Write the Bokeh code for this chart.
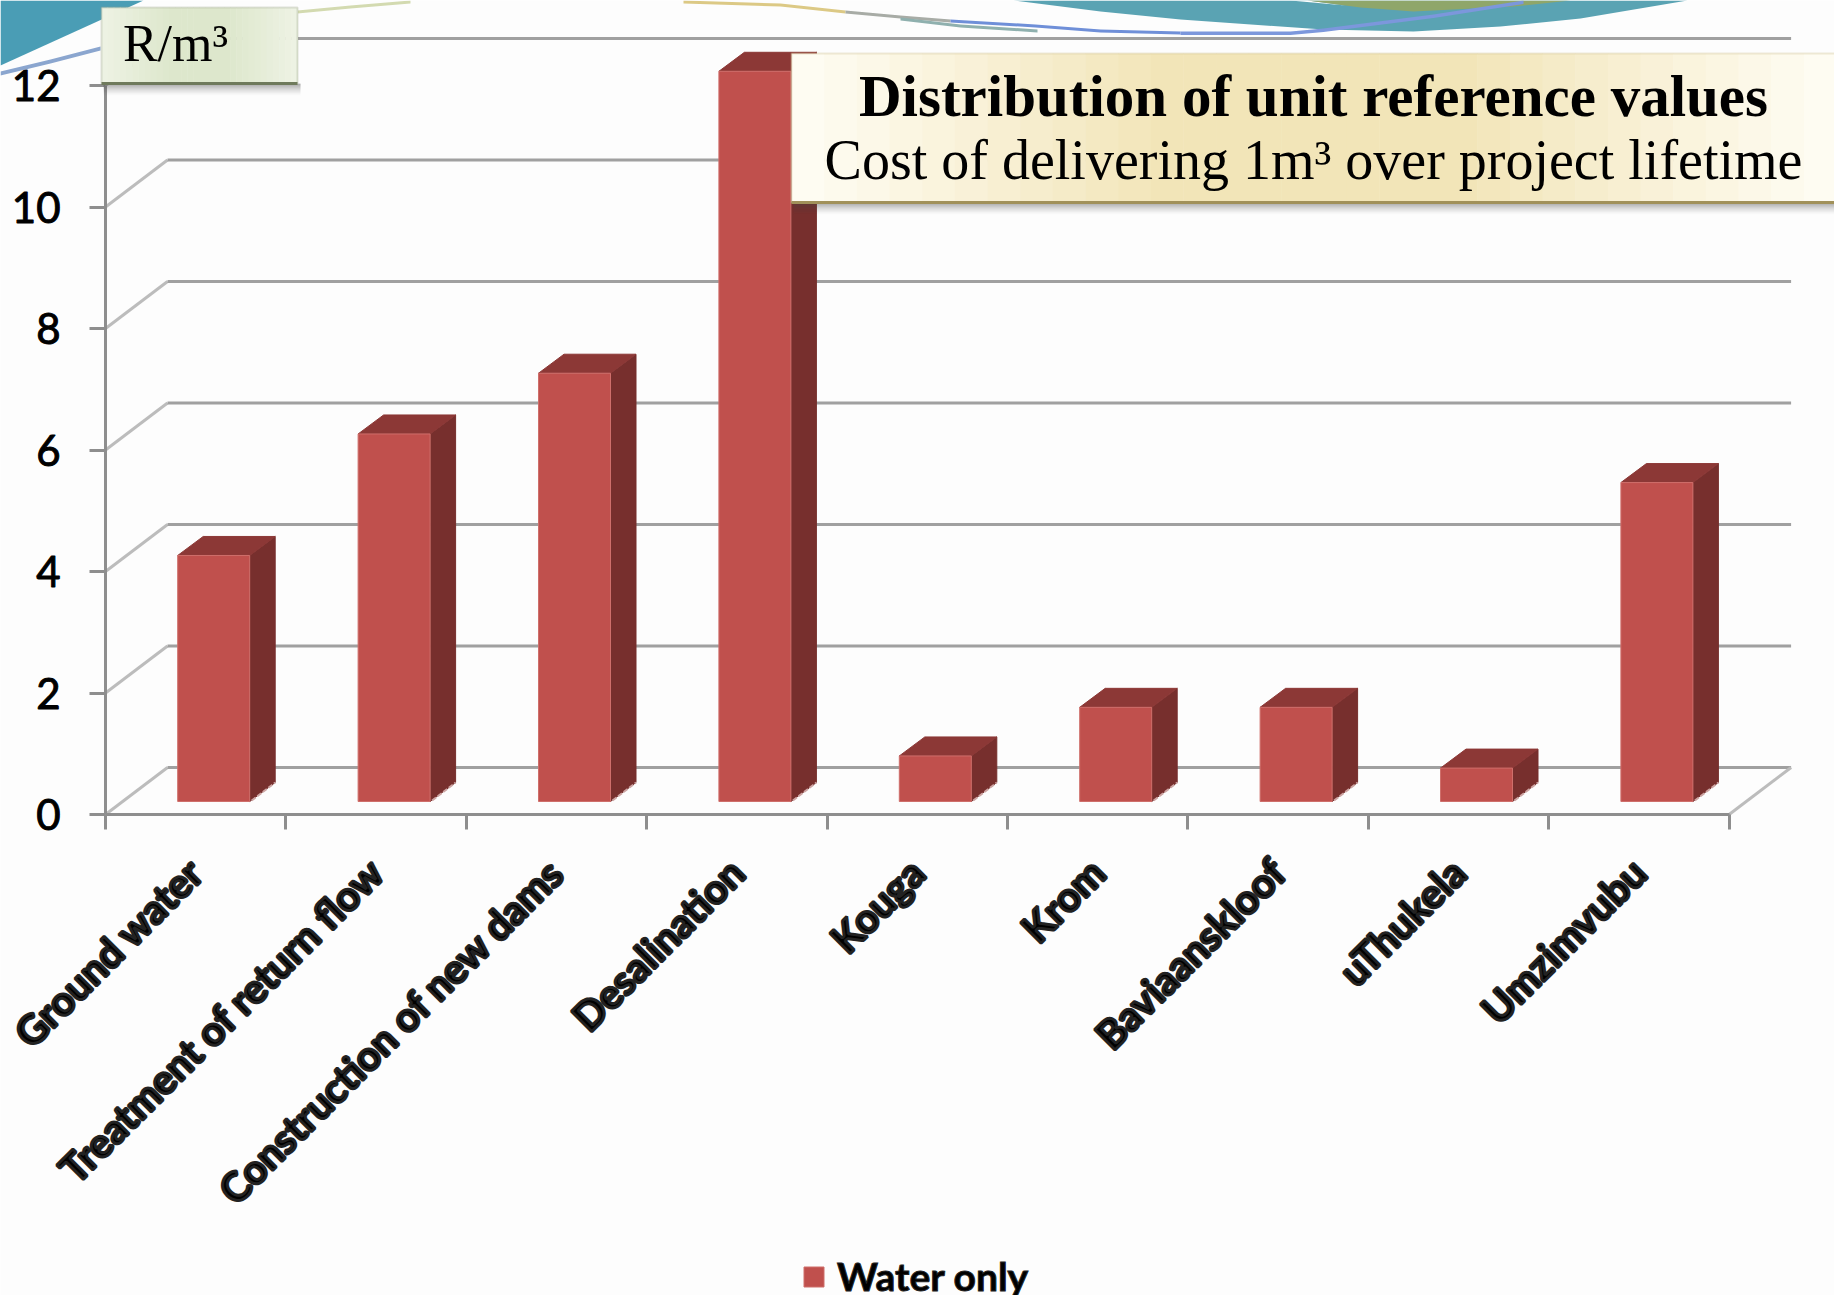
from math import pi
from bokeh.plotting import figure
from bokeh.embed import file_html
from bokeh.resources import INLINE
from bokeh.models import (LinearAxis, FixedTicker, Range1d, Legend, Label,
                          BoxAnnotation, PolyAnnotation)

categories = ["Ground water", "Treatment of return flow", "Construction of new dams",
              "Desalination", "Kouga", "Krom", "Baviaanskloof", "uThukela", "Umzimvubu"]
values = [4.05, 6.05, 7.05, 12.02, 0.75, 1.55, 1.55, 0.55, 5.25]
y_ticks = [0, 2, 4, 6, 8, 10, 12]
series_name = "Water only"
title_main = "Distribution of unit reference values"
title_sub = "Cost of delivering 1m³ over project lifetime"
unit_label = "R/m³"

W, H = 1834, 1295
X0, Y0 = 105, 814          # canvas position of the axes' origin
PX_X, PX_Y = 180.4, 60.75  # pixels per data unit

# pseudo-3D geometry in data units
WALL_DX, WALL_DY = 62 / PX_X, 47 / PX_Y
BAR_W = 72 / PX_X
BAR_SHIFT = 18 / PX_X
BAR_FLOOR = 13 / PX_Y
SIDE_DX, SIDE_DY = 25.5 / PX_X, 19 / PX_Y

p = figure(width=W, height=H, output_backend="svg", toolbar_location=None,
           x_axis_type=None, y_axis_type=None,
           x_range=Range1d(-X0 / PX_X, (W - X0) / PX_X),
           y_range=Range1d(-(H - Y0) / PX_Y, Y0 / PX_Y),
           min_border=0,
           background_fill_color="#fdfdfd", border_fill_color="#fdfdfd",
           outline_line_color=None)
p.grid.visible = False

AXC = "#8e8e8e"
n = len(categories)
# walls and floor lines
for v in y_ticks:
    p.line([0, WALL_DX], [v, v + WALL_DY], line_color="#bcbcbc", line_width=3)
    p.line([WALL_DX, n + WALL_DX], [v + WALL_DY, v + WALL_DY],
           line_color="#a0a0a0", line_width=3)
p.line([n, n + WALL_DX], [0, WALL_DY], line_color="#bcbcbc", line_width=3)

# bars
xl = [i + 0.5 + BAR_SHIFT - BAR_W / 2 for i in range(n)]
xr = [x + BAR_W for x in xl]
tops = [v + BAR_FLOOR for v in values]
side_xs = [[r, r + SIDE_DX, r + SIDE_DX, r] for r in xr]
side_ys = [[BAR_FLOOR, BAR_FLOOR + SIDE_DY, t + SIDE_DY, t] for t in tops]
top_xs = [[l, l + SIDE_DX, r + SIDE_DX, r] for l, r in zip(xl, xr)]
top_ys = [[t, t + SIDE_DY, t + SIDE_DY, t] for t in tops]
p.patches(side_xs, side_ys, fill_color="#772f2d", line_color="#772f2d")
p.patches(top_xs, top_ys, fill_color="#8c3836", line_color="#8c3836")
p.segment([r + 2 / PX_X for r in xr], [BAR_FLOOR + 1 / PX_Y] * n,
          [r + SIDE_DX for r in xr], [BAR_FLOOR + SIDE_DY] * n,
          line_color="#cda5a3", line_width=2, line_dash="5 2")
front = p.quad(left=xl, right=xr, bottom=[BAR_FLOOR] * n, top=tops,
               fill_color="#c0504d", line_color="#cf6f6b", line_width=1)

# y axis
ya = LinearAxis(ticker=FixedTicker(ticks=y_ticks), bounds=(0, 12), fixed_location=0)
ya.axis_line_color = AXC
ya.axis_line_width = 3
ya.major_tick_line_color = AXC
ya.major_tick_line_width = 3
ya.major_tick_in = 0
ya.major_tick_out = 16
ya.minor_tick_out = 0
ya.minor_tick_in = 0
ya.major_label_standoff = 29
ya.major_label_text_font = "Lato"
ya.major_label_text_font_size = "42px"
ya.major_label_text_color = "#000000"
ya.major_label_text_outline_color = "#000000"
p.add_layout(ya, "left")

# x axis: boundary minor ticks, category labels at bar centres
xa = LinearAxis(ticker=FixedTicker(ticks=[i + 0.5 for i in range(n)],
                                   minor_ticks=list(range(n + 1))),
                major_label_overrides={i + 0.5: c for i, c in enumerate(categories)},
                bounds=(0, n), fixed_location=0)
xa.axis_line_color = AXC
xa.axis_line_width = 3
xa.major_tick_line_color = None
xa.major_tick_in = 0
xa.major_tick_out = 0
xa.minor_tick_line_color = AXC
xa.minor_tick_line_width = 3
xa.minor_tick_in = 0
xa.minor_tick_out = 15
xa.major_label_orientation = pi / 4
xa.major_label_standoff = 36
xa.major_label_text_font = "Lato"
xa.major_label_text_font_style = "bold"
xa.major_label_text_font_size = "40px"
xa.major_label_text_color = "#000000"
xa.major_label_text_outline_color = "#222222"
p.add_layout(xa, "below")

# legend
leg = Legend(items=[(series_name, [front])], location=(801, -4),
             background_fill_alpha=0, border_line_color=None,
             label_text_font="Lato", label_text_font_style="bold",
             label_text_font_size="39px", label_text_color="#000000",
             label_text_outline_color="#222222",
             glyph_width=25, glyph_height=25, label_standoff=11,
             padding=0, margin=0)
p.add_layout(leg, "center")


def poly(pts, color):
    p.add_layout(PolyAnnotation(xs=[a for a, _ in pts], ys=[b for _, b in pts],
                                xs_units="canvas", ys_units="canvas",
                                fill_color=color, fill_alpha=1, line_color=None))


def band(pts, w, color):
    poly(pts + [(a, b + w) for a, b in reversed(pts)], color)


def box(l, r, t, b, color, alpha=1.0, line=None, lw=1):
    p.add_layout(BoxAnnotation(left=l, right=r, top=t, bottom=b,
                               left_units="canvas", right_units="canvas",
                               top_units="canvas", bottom_units="canvas",
                               fill_color=color, fill_alpha=alpha,
                               line_color=line, line_width=lw, editable=False))


def mix(a, b, t):
    ca = [int(a[i:i + 2], 16) for i in (1, 3, 5)]
    cb = [int(b[i:i + 2], 16) for i in (1, 3, 5)]
    return "#%02x%02x%02x" % tuple(round(x + (y - x) * t) for x, y in zip(ca, cb))


def gradient_box(l, r, t, b, edge, mid, border, dark, strips=32):
    for i in range(12):
        box(l + 2, r + 3, b + i, b + i + 1.5, "#444444", 0.32 * (1 - i / 12) ** 1.5)
    step = (r - l) / strips
    for i in range(strips):
        f = 1 - abs((i + 0.5) / strips * 2 - 1)
        box(l + i * step, l + (i + 1) * step + 0.5, t, b, mix(edge, mid, min(f * 1.4, 1)))
    box(l, r, t, b, "#ffffff", 0, border, 2)
    box(l, r, b - 1.5, b + 1.5, dark)


# header swooshes
poly([(0, 65), (143, 0), (0, 0)], "#4a9db5")
band([(0, 71), (50, 59), (100, 46)], 4, "#8ba6cf")
band([(297, 10), (350, 5), (410, 0)], 3, "#d3dab0")
poly([(1013, 0), (1100, 11), (1180, 19), (1280, 26), (1323, 29), (1413, 31), (1500, 26), (1580, 18), (1687, 0)], "#5aa3b3")
poly([(1290, 0), (1307, 0), (1345, 5)], "#fdfdfd")
poly([(1307, 0), (1360, 7), (1413, 11), (1513, 6), (1570, 0)], "#8fa66a")
band([(683, 0), (780, 3), (845, 10)], 3, "#dcc985")
band([(845, 10), (900, 15), (950, 19)], 3, "#a8aca6")
band([(900, 17), (960, 24), (1037, 29)], 3, "#8fb0ae")
band([(950, 19), (1035, 24), (1100, 29), (1180, 31)], 3, "#6f8fd8")
band([(1180, 31), (1290, 31), (1323, 28), (1433, 14), (1523, 0)], 3.5, "#7c97dc")

# callouts
gradient_box(101, 297, 7, 83, "#eef3e4", "#dde7cc", "#98a388", "#6f7a5c")
gradient_box(791, 1836, 53, 202, "#fffdf5", "#f2e5b8", "#c9bb85", "#a1915a")


def label(x, y, text, size, style="normal"):
    p.add_layout(Label(x=x, y=y, x_units="canvas", y_units="canvas", text=text,
                       text_font="Liberation Serif", text_font_size=size,
                       text_font_style=style, text_color="#000000",
                       text_align="center", text_baseline="alphabetic"))


label(1313, 95, title_main, "59px", "bold")
label(1313, 159, title_sub, "56px")
label(175, 43, unit_label, "52px")

open("out.html", "w").write(file_html(p, INLINE))
